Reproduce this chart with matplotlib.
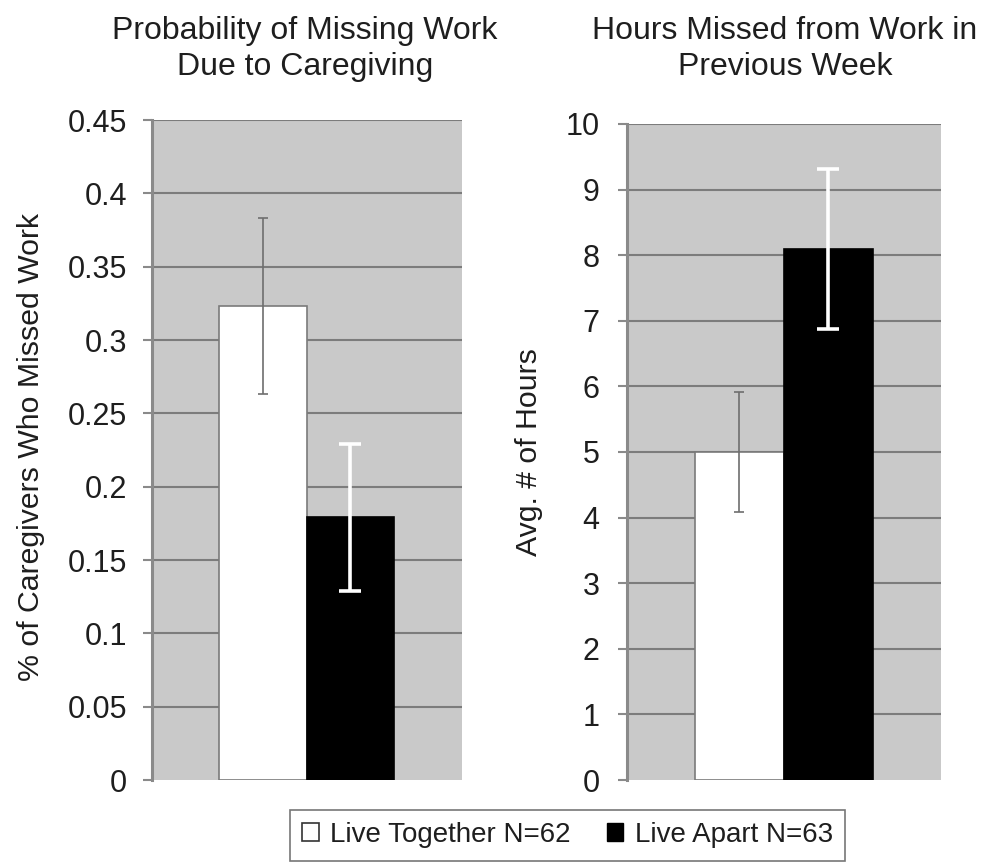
import matplotlib
matplotlib.use("Agg")
import matplotlib.pyplot as plt
from matplotlib.patches import Patch

plt.rcParams['font.family'] = ['Liberation Sans', 'DejaVu Sans']

groups = ["Live Together N=62", "Live Apart N=63"]
prob_values = [0.323, 0.179]
prob_errors = [0.060, 0.050]
hours_values = [5.0, 8.1]
hours_errors = [0.92, 1.22]
prob_ticks = [0, 0.05, 0.1, 0.15, 0.2, 0.25, 0.3, 0.35, 0.4, 0.45]
prob_ticklabels = ["0", "0.05", "0.1", "0.15", "0.2", "0.25", "0.3", "0.35", "0.4", "0.45"]
hours_ticks = list(range(0, 11))
titles = ["Probability of Missing Work\nDue to Caregiving", "Hours Missed from Work in\nPrevious Week"]
ylabels = ["% of Caregivers Who Missed Work", "Avg. # of Hours"]

W, H = 984, 865
fig = plt.figure(figsize=(W/100, H/100), dpi=100)
bg = "#c9c9c9"
grid = "#7c7c7c"
axcol = "#8a8a8a"
txt = "#1e1e1e"
facecolors = ["white", "black"]
edgecolors = ["#7a7a7a", "black"]
ecolors = ["#6e6e6e", "white"]
elw = [1.2, 2.6]
caps = [3.6, 8]

def px(l, t, r, b):
    return [l/W, 1-b/H, (r-l)/W, (b-t)/H]

ax1 = fig.add_axes(px(152, 120, 462, 780))
ax2 = fig.add_axes(px(627, 124, 941, 780))

configs = [
    (ax1, prob_values, prob_errors, 0.45, prob_ticks, prob_ticklabels),
    (ax2, hours_values, hours_errors, 10, hours_ticks, [str(t) for t in hours_ticks]),
]
title_x = [305, 785]
label_xy = [(-0.345, 0.505), (-0.267, 0.5)]
pads = [11, 13]
for i, (ax, vals, errs, ymax, ticks, tl) in enumerate(configs):
    ax.set_facecolor(bg)
    ax.set_ylim(0, ymax)
    ax.set_xlim(-1.26, 2.27)
    ax.set_yticks(ticks)
    ax.set_yticklabels(tl)
    ax.set_xticks([])
    for t in ticks[1:]:
        ax.axhline(t, color=grid, lw=1.5, zorder=1)
    for j in range(2):
        ax.bar(j, vals[j], width=1.0, color=facecolors[j], edgecolor=edgecolors[j],
               linewidth=1.2, zorder=2)
        ax.errorbar(j, vals[j], yerr=errs[j], fmt='none', ecolor=ecolors[j],
                    elinewidth=elw[j], capsize=caps[j], capthick=elw[j], zorder=3)
    for s in ["top", "right", "bottom"]:
        ax.spines[s].set_visible(False)
    ax.spines["left"].set_color(axcol)
    ax.spines["left"].set_linewidth(2.2)
    ax.tick_params(axis='y', direction='out', length=6.8, width=1.5, color=axcol,
                   labelsize=22, pad=pads[i], labelcolor=txt)
    fig.text(title_x[i]/W, 1-49/H, titles[i], fontsize=23, color=txt,
             ha='center', va='center', linespacing=1.22)
    ax.set_ylabel(ylabels[i], fontsize=21.8, color=txt)
    ax.yaxis.set_label_coords(*label_xy[i])

handles = [Patch(facecolor="white", edgecolor="#333333", linewidth=1.2),
           Patch(facecolor="black", edgecolor="black")]
leg = fig.legend(handles, groups, loc="center", bbox_to_anchor=((288+847)/2/W, 1-835/H),
                 ncol=2, fontsize=20, frameon=True, fancybox=False, edgecolor="#555555",
                 handlelength=0.6, handleheight=0.6, handletextpad=0.4, columnspacing=1.3,
                 borderpad=0.45, labelcolor=txt)
leg.get_frame().set_linewidth(1.2)

fig.savefig("out.png", dpi=100)
